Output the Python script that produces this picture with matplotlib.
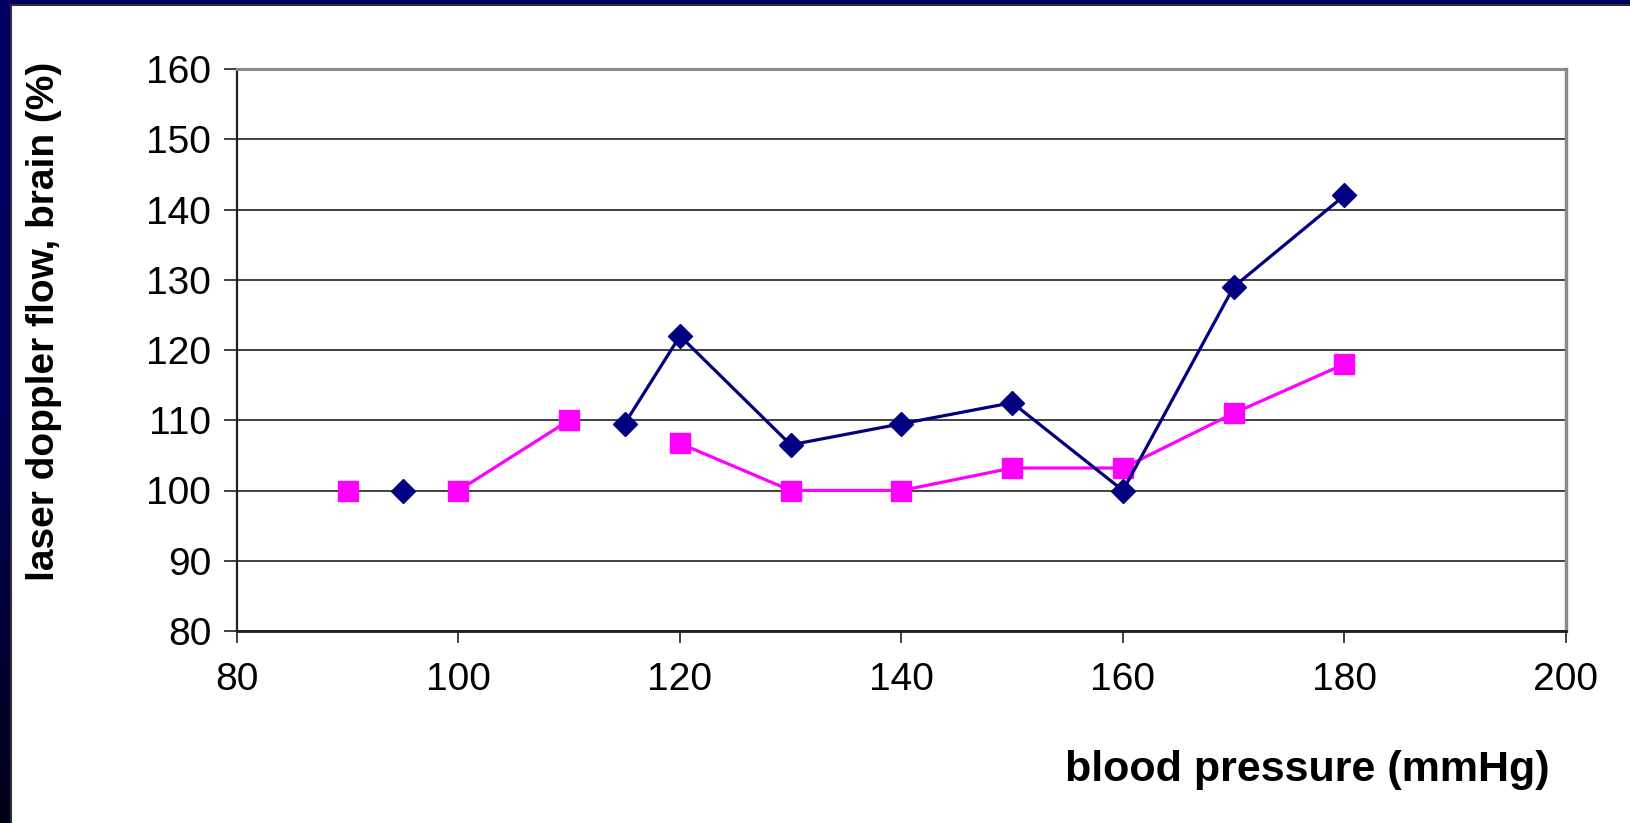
import numpy as np
import matplotlib
matplotlib.use("Agg")
import matplotlib.pyplot as plt
from matplotlib.patches import Rectangle
from matplotlib.colors import LinearSegmentedColormap

plt.rcParams['font.family'] = ['Liberation Sans', 'DejaVu Sans']

# Shared blood-pressure column; NaN marks a blank cell (breaks the line)
pressure = [90, 95, 100, 110, 115, 120, 130, 140, 150, 160, 170, 180]
flow_a = [np.nan, 100, np.nan, np.nan, 109.5, 122, 106.5, 109.5, 112.5, 100, 129, 142]
flow_b = [100, np.nan, 100, 110, np.nan, 106.7, 100, 100, 103.2, 103.2, 111, 118]

x_ticks = [80, 100, 120, 140, 160, 180, 200]
y_ticks = [80, 90, 100, 110, 120, 130, 140, 150, 160]

W, H = 1631, 823
fig = plt.figure(figsize=(W / 100, H / 100), dpi=100)

# slide background: navy fading to near-black towards the bottom
bg = fig.add_axes([0, 0, 1, 1], zorder=-10)
grad = np.linspace(0, 1, 256).reshape(-1, 1)
cmap = LinearSegmentedColormap.from_list("slide", ["#000066", "#00005a", "#000018"])
bg.imshow(grad, aspect="auto", cmap=cmap, extent=[0, 1, 0, 1], origin="upper")
bg.set_xlim(0, 1)
bg.set_ylim(0, 1)
bg.axis("off")

# white chart panel with a thin dark edge on its top and left
panel_x0 = 11 / W
panel_y1 = 1 - 5 / H
bg.add_patch(Rectangle((panel_x0, -0.1), 1.2 - panel_x0, panel_y1 + 0.1, facecolor="white",
                       edgecolor="#303030", linewidth=1.5, transform=bg.transAxes,
                       clip_on=False))

ax = fig.add_axes([237 / W, 1 - 631 / H, (1566 - 237) / W, (631 - 69) / H])
ax.set_facecolor("none")

ax.plot(pressure, flow_a, color="#000080", linewidth=2.3, marker="D",
        markersize=12.5, markerfacecolor="#000080", markeredgecolor="#000080", zorder=4)
ax.plot(pressure, flow_b, color="#FF00FF", linewidth=2.3, marker="s",
        markersize=14, markerfacecolor="#FF00FF", markeredgecolor="#FF00FF", zorder=3)

ax.set_xlim(80, 200)
ax.set_ylim(80, 160)
ax.set_xticks(x_ticks)
ax.set_yticks(y_ticks)
ax.set_xticklabels([str(v) for v in x_ticks])
ax.set_yticklabels([str(v) for v in y_ticks])

ax.yaxis.grid(True, color="#404040", linewidth=1.4)
ax.set_axisbelow(True)

ax.spines["left"].set_color("#202020")
ax.spines["left"].set_linewidth(1.6)
ax.spines["bottom"].set_color("#202020")
ax.spines["bottom"].set_linewidth(2.0)
ax.spines["top"].set_color("#8a8a8a")
ax.spines["top"].set_linewidth(2.2)
ax.spines["right"].set_color("#8a8a8a")
ax.spines["right"].set_linewidth(2.5)

ax.tick_params(axis="y", direction="out", length=9.5, width=1.2, color="#202020",
               labelsize=28, pad=9)
ax.tick_params(axis="x", direction="out", length=8.5, width=1.2, color="#202020",
               labelsize=28, pad=14)

fig.text(1307 / W, 1 - 770 / H, "blood pressure (mmHg)", fontsize=31,
         fontweight="bold", ha="center", va="center")
fig.text(44 / W, 1 - 321 / H, "laser doppler flow, brain (%)", fontsize=28,
         fontweight="bold", ha="center", va="center", rotation=90)

fig.savefig("out.png", dpi=100)
